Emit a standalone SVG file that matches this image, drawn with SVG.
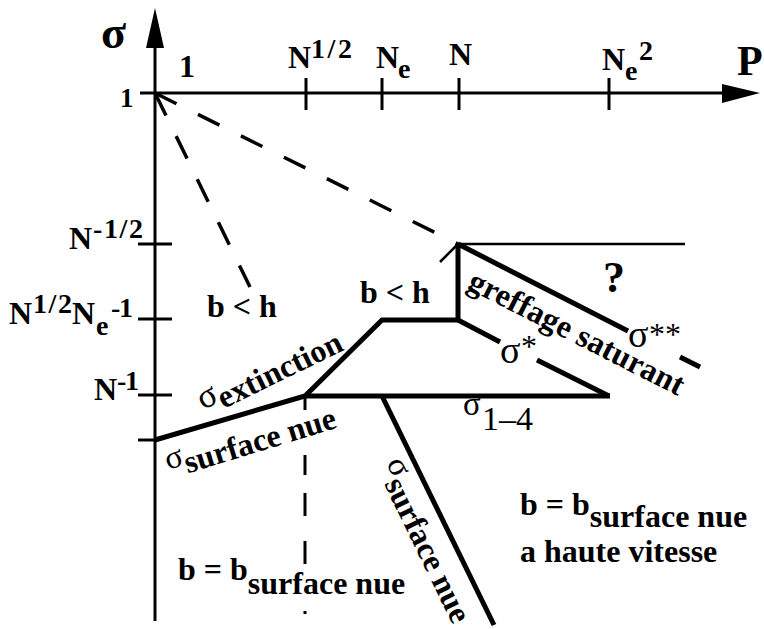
<svg xmlns="http://www.w3.org/2000/svg" width="764" height="629" viewBox="0 0 764 629">
<style>
.t{font-family:"Liberation Serif","Times New Roman",serif;font-weight:bold;font-size:32px;fill:#000}
.s{font-family:"Liberation Serif","Times New Roman",serif;font-weight:normal;fill:#000}
.sup{font-size:28px}
.ax{stroke:#000;stroke-width:3;fill:none}
.tk{stroke:#000;stroke-width:3;fill:none}
.th{stroke:#000;stroke-width:5;fill:none;stroke-linejoin:miter}
.tn{stroke:#000;stroke-width:2.5;fill:none}
.da{stroke:#000;stroke-width:3.5;fill:none;stroke-dasharray:24 24}
.db{stroke:#000;stroke-width:3.5;fill:none;stroke-dasharray:25 23}
</style>
<rect width="764" height="629" fill="#fff"/>
<g id="axes">
<line class="ax" x1="155" y1="40" x2="155" y2="621"/>
<polygon points="155,8 146,48 164,48" fill="#000"/>
<line class="ax" x1="140" y1="93" x2="730" y2="93"/>
<polygon points="760,93 722,84 722,103" fill="#000"/>
<g id="xticks">
<line class="tk" x1="306" y1="78" x2="306" y2="110"/>
<line class="tk" x1="382" y1="78" x2="382" y2="110"/>
<line class="tk" x1="459" y1="78" x2="459" y2="110"/>
<line class="tk" x1="609" y1="78" x2="609" y2="110"/>
</g>
<g id="yticks">
<line class="tk" x1="138" y1="244" x2="172" y2="244"/>
<line class="tk" x1="138" y1="319" x2="172" y2="319"/>
<line class="tk" x1="138" y1="395" x2="172" y2="395"/>
<line class="tk" x1="138" y1="440" x2="158" y2="440"/>
</g>
</g>
<g id="axis-labels">
<text class="t" x="101" y="48" style="font-size:46px">σ</text>
<text class="t" x="179" y="77">1</text>
<text class="t" x="120" y="107" style="font-size:27px">1</text>
<text class="t" x="737" y="75" style="font-size:42px">P</text>
<text class="t" x="288" y="68">N</text>
<text class="t sup" x="311" y="58" textLength="41">1/2</text>
<text class="t" x="376" y="68">N</text>
<text class="t sup" x="398" y="78">e</text>
<text class="t" x="449" y="65">N</text>
<text class="t" x="602" y="70">N</text>
<text class="t sup" x="625" y="80">e</text>
<text class="t sup" x="639" y="60">2</text>
<text class="t" x="69" y="249">N</text>
<text class="t sup" x="93" y="238" textLength="50">-1/2</text>
<text class="t" x="9" y="324">N</text>
<text class="t sup" x="33" y="313" textLength="39">1/2</text>
<text class="t" x="72" y="324">N</text>
<text class="t sup" x="96" y="335">e</text>
<text class="t sup" x="111" y="317" textLength="22">-1</text>
<text class="t" x="94" y="400">N</text>
<text class="t sup" x="117" y="390" textLength="22">-1</text>
</g>
<g id="connectors">
<line class="da" x1="155" y1="93" x2="458" y2="244"/>
<line class="db" x1="155" y1="93" x2="250" y2="287"/>
<path class="th" d="M155,440 L305,396 L382,320 L458,320 L458,244"/>
<line class="th" x1="305" y1="396" x2="610" y2="396"/>
<line class="tn" x1="458" y1="244" x2="685" y2="244"/>
<line class="tn" x1="440" y1="262" x2="458" y2="244"/>
<line class="th" x1="458" y1="244" x2="628" y2="331"/>
<line class="th" x1="680" y1="357" x2="700" y2="367"/>
<line class="th" x1="458" y1="320" x2="500" y2="342"/>
<line class="th" x1="537" y1="360" x2="609" y2="396"/>
<line class="th" x1="382" y1="396" x2="494" y2="625"/>
<path class="tk" d="M305,398 V410 M305,455 V475 M305,493 V516 M305,541 V564 M305,611 V614"/>
</g>
<g id="region-b-lt-h-left"><text class="t" x="207" y="317">b &lt; h</text></g>
<g id="region-b-lt-h-top"><text class="t" x="360" y="303">b &lt; h</text></g>
<g id="sigma-extinction"><text class="t" transform="translate(203,410) rotate(-26)"><tspan class="s" style="font-size:35px">σ</tspan><tspan dy="8">extinction</tspan></text></g>
<g id="sigma-surface-left"><text class="t" transform="translate(168,470) rotate(-17)"><tspan class="s" style="font-size:33px">σ</tspan><tspan dy="9">surface nue</tspan></text></g>
<g id="sigma-surface-steep"><text class="t" transform="translate(386,463) rotate(64)"><tspan class="s" style="font-size:33px">σ</tspan><tspan dy="11">surface nue</tspan></text></g>
<g id="greffage"><text class="t" transform="translate(466,288) rotate(27)" textLength="238">greffage saturant</text></g>
<g id="question"><text class="t" x="603" y="292" style="font-size:44px">?</text></g>
<g id="sigma-2star"><text class="s" x="628" y="347" style="font-size:38px">σ</text><text class="s" x="649" y="345" style="font-size:32px">**</text></g>
<g id="sigma-star"><text class="s" x="500" y="363" style="font-size:38px">σ</text><text class="s" x="521" y="357" style="font-size:32px">*</text></g>
<g id="sigma-14"><text class="s" x="463" y="415" style="font-size:33px">σ</text><text class="s" x="482" y="430" style="font-size:34px">1–4</text></g>
<g id="b-bottom"><text class="t" x="178" y="580">b = b<tspan dy="14">surface nue</tspan></text></g>
<g id="b-right"><text class="t" x="520" y="515">b = b<tspan dy="12">surface nue</tspan></text><text class="t" x="520" y="562">a haute vitesse</text></g>
</svg>
